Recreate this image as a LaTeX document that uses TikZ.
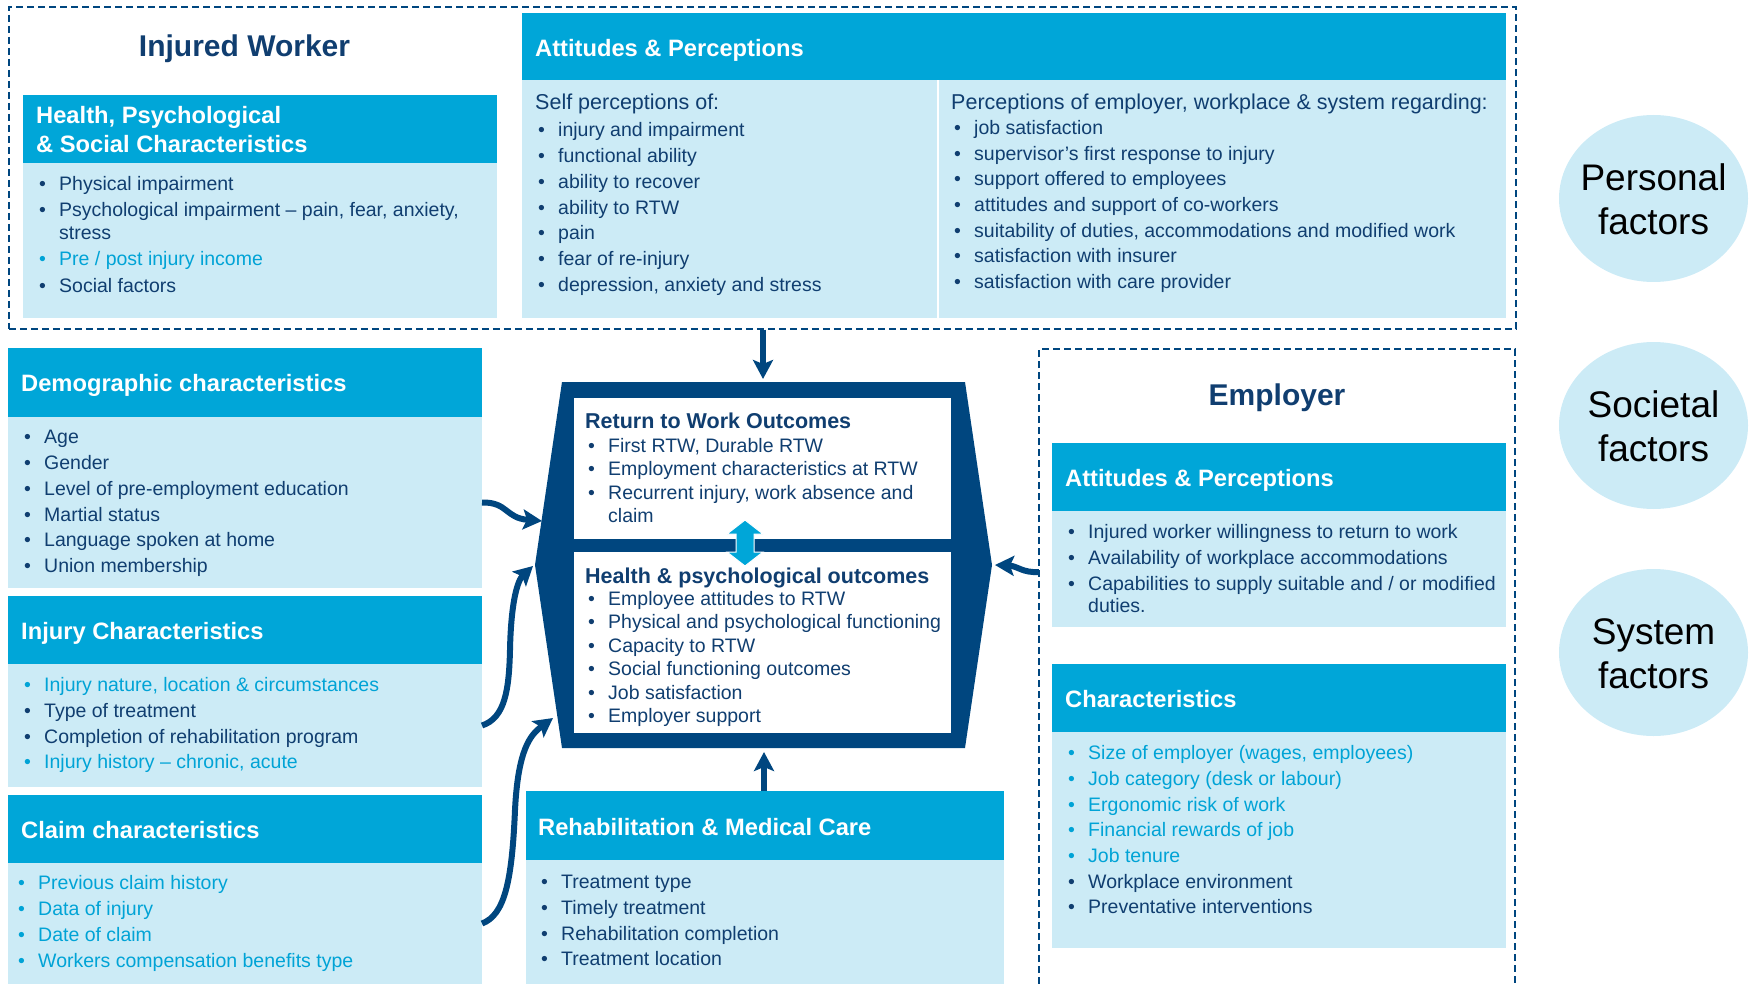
\documentclass[tikz,border=0pt]{standalone}
\usepackage{fontspec}
\setmainfont{Liberation Sans}
\usetikzlibrary{arrows.meta,shapes.geometric}
\definecolor{navy}{RGB}{0,70,127}
\definecolor{txt}{RGB}{16,62,112}
\definecolor{hdr}{RGB}{0,166,216}
\definecolor{lite}{RGB}{204,235,246}
\definecolor{hl}{RGB}{0,163,214}
\newlength\bw
\setlength\bw{20pt}
\newcommand\itm[1]{\strut\makebox[\bw][l]{\textbullet}#1}
\newcommand\itmh[1]{{\color{hl}\strut\makebox[\bw][l]{\textbullet}#1}}
\newcommand\cont[1]{\strut\hspace*{\bw}#1}
\begin{document}
\begin{tikzpicture}[x=1pt,y=-1pt,
  hbox/.style={fill=hdr, inner sep=0, outer sep=0, anchor=north west},
  bbox/.style={fill=lite, inner sep=0, outer sep=0, anchor=north west},
  wbox/.style={fill=white, inner sep=0, outer sep=0, anchor=north west},
  dashbox/.style={draw=navy, line width=1.6pt, dash pattern=on 7pt off 4pt},
  htxt/.style={anchor=base west, inner sep=0, text=white, font=\fontsize{23.7}{29}\selectfont\bfseries},
  ttl/.style={anchor=base, inner sep=0, text=txt, font=\fontsize{30}{36}\selectfont\bfseries},
  lst/.style={anchor=north west, inner sep=0, align=left, text=txt, font=\fontsize{19.5}{22.5}\selectfont},
  lstc/.style={anchor=north west, inner sep=0, align=left, text=txt, font=\fontsize{19.5}{23.4}\selectfont},
  sub/.style={anchor=base west, inner sep=0, text=txt, font=\fontsize{21.5}{26}\selectfont},
  subb/.style={anchor=base west, inner sep=0, text=txt, font=\fontsize{21.5}{26}\selectfont\bfseries},
  fac/.style={ellipse, fill=lite, inner sep=0, minimum width=189pt, minimum height=167pt},
  factxt/.style={anchor=north, inner sep=0, align=center, text=black, font=\fontsize{37}{43.5}\selectfont},
  conn/.style={draw=navy, line width=6pt, -{Stealth[length=19pt,width=20pt,inset=4pt]}}
]
\useasboundingbox (0,0) rectangle (1750,984);

% ---------- Injured worker (top dashed box) ----------
\node[dashbox, anchor=north west, inner sep=0, minimum width=1507pt, minimum height=322pt] (iw) at (8,6) {};
\node[ttl] (iwt) at (244.5,57) {Injured Worker};

\node[hbox, minimum width=474pt, minimum height=68pt] (hpsH) at (23,95) {};
\node[bbox, minimum width=474pt, minimum height=155pt] (hpsB) at (23,163) {};
\node[anchor=north west, inner sep=0, align=left, text=white, font=\fontsize{23.7}{29}\selectfont\bfseries] (hpsT) at (36,102.7) {\strut Health, Psychological\\\strut \& Social Characteristics};
\node[lst] (hpsL) at (39,174.25) {\itm{Physical impairment}\\[4pt]
\itm{Psychological impairment – pain, fear, anxiety,}\\
\cont{stress}\\[4pt]
\itmh{Pre / post injury income}\\[4pt]
\itm{Social factors}};

\node[hbox, minimum width=984pt, minimum height=67pt] (apH) at (522,13) {};
\node[bbox, minimum width=415pt, minimum height=238pt] (apB1) at (522,80) {};
\node[bbox, minimum width=567pt, minimum height=238pt] (apB2) at (939,80) {};
\node[htxt] (apT) at (535,57) {Attitudes \& Perceptions};
\node[sub] (selfT) at (535,110) {Self perceptions of:};
\node[lst] (selfL) at (538,120.75) {\itm{injury and impairment}\\[3.3pt]
\itm{functional ability}\\[3.3pt]
\itm{ability to recover}\\[3.3pt]
\itm{ability to RTW}\\[3.3pt]
\itm{pain}\\[3.3pt]
\itm{fear of re-injury}\\[3.3pt]
\itm{depression, anxiety and stress}};
\node[sub] (percT) at (951,110) {Perceptions of employer, workplace \& system regarding:};
\node[lst] (percL) at (954,118.75) {\itm{job satisfaction}\\[3.1pt]
\itm{supervisor’s first response to injury}\\[3.1pt]
\itm{support offered to employees}\\[3.1pt]
\itm{attitudes and support of co-workers}\\[3.1pt]
\itm{suitability of duties, accommodations and modified work}\\[3.1pt]
\itm{satisfaction with insurer}\\[3.1pt]
\itm{satisfaction with care provider}};

% ---------- factor ellipses ----------
\node[fac] (pf) at (1653.5,198.5) {};
\node[fac] (sf) at (1653.5,425.5) {};
\node[fac] (yf) at (1653.5,652.5) {};
\node[factxt] (pft) at (1653.5,160) {\strut Personal\\\strut factors};
\node[factxt] (sft) at (1653.5,387) {\strut Societal\\\strut factors};
\node[factxt] (yft) at (1653.5,614) {\strut System\\\strut factors};

% ---------- left column ----------
\node[hbox, minimum width=474pt, minimum height=69pt] (demH) at (8,348) {};
\node[bbox, minimum width=474pt, minimum height=171pt] (demB) at (8,417) {};
\node[htxt] (demT) at (21,391) {Demographic characteristics};
\node[lst] (demL) at (24,427.75) {\itm{Age}\\[3.3pt]
\itm{Gender}\\[3.3pt]
\itm{Level of pre-employment education}\\[3.3pt]
\itm{Martial status}\\[3.3pt]
\itm{Language spoken at home}\\[3.3pt]
\itm{Union membership}};

\node[hbox, minimum width=474pt, minimum height=68pt] (injH) at (8,596) {};
\node[bbox, minimum width=474pt, minimum height=123pt] (injB) at (8,664) {};
\node[htxt] (injT) at (21,639.5) {Injury Characteristics};
\node[lst] (injL) at (24,675.75) {\itmh{Injury nature, location \& circumstances}\\[3.2pt]
\itm{Type of treatment}\\[3.2pt]
\itm{Completion of rehabilitation program}\\[3.2pt]
\itmh{Injury history – chronic, acute}};

\node[hbox, minimum width=474pt, minimum height=68pt] (clH) at (8,795) {};
\node[bbox, minimum width=474pt, minimum height=121pt] (clB) at (8,863) {};
\node[htxt] (clT) at (21,838) {Claim characteristics};
\node[lst] (clL) at (18,873.75) {\itmh{Previous claim history}\\[3.5pt]
\itmh{Data of injury}\\[3.5pt]
\itmh{Date of claim}\\[3.5pt]
\itmh{Workers compensation benefits type}};

% ---------- rehabilitation ----------
\node[hbox, minimum width=478pt, minimum height=69pt] (rhH) at (526,791) {};
\node[bbox, minimum width=478pt, minimum height=124pt] (rhB) at (526,860) {};
\node[htxt] (rhT) at (538,835) {Rehabilitation \& Medical Care};
\node[lst] (rhL) at (541,872.75) {\itm{Treatment type}\\[3.2pt]
\itm{Timely treatment}\\[3.2pt]
\itm{Rehabilitation completion}\\[3.2pt]
\itm{Treatment location}};

% ---------- employer ----------
\draw[dashbox] (1039,984) -- (1039,349) -- (1515,349) -- (1515,984);
\coordinate (empL) at (1039,572);
\node[ttl] (empT) at (1277,405) {Employer};
\node[hbox, minimum width=454pt, minimum height=68pt] (eaH) at (1052,443) {};
\node[bbox, minimum width=454pt, minimum height=116pt] (eaB) at (1052,511) {};
\node[htxt] (eaT) at (1065,486) {Attitudes \& Perceptions};
\node[lst] (eaL) at (1068,522.75) {\itm{Injured worker willingness to return to work}\\[3.3pt]
\itm{Availability of workplace accommodations}\\[3.3pt]
\itm{Capabilities to supply suitable and / or modified}\\
\cont{duties.}};

\node[hbox, minimum width=454pt, minimum height=68pt] (chH) at (1052,664) {};
\node[bbox, minimum width=454pt, minimum height=216pt] (chB) at (1052,732) {};
\node[htxt] (chT) at (1065,707) {Characteristics};
\node[lst] (chL) at (1068,743.75) {\itmh{Size of employer (wages, employees)}\\[3.2pt]
\itmh{Job category (desk or labour)}\\[3.2pt]
\itmh{Ergonomic risk of work}\\[3.2pt]
\itmh{Financial rewards of job}\\[3.2pt]
\itmh{Job tenure}\\[3.2pt]
\itm{Workplace environment}\\[3.2pt]
\itm{Preventative interventions}};

% ---------- centre outcomes ----------
\fill[navy] (562,382) -- (965,382) -- (992,565) -- (965,748) -- (562,748) -- (535,565) -- cycle;
\coordinate (hexT) at (763,379);
\coordinate (hexB) at (764,752);
\coordinate (hexR) at (995,565);
\coordinate (hexL1) at (542,521);
\coordinate (hexL2) at (533,566);
\coordinate (hexL3) at (553,718);
\node[wbox, minimum width=377pt, minimum height=141pt] (rtw) at (574,398) {};
\node[wbox, minimum width=377pt, minimum height=181pt] (hpo) at (574,552) {};
\node[subb] (rtwT) at (585,428) {Return to Work Outcomes};
\node[lstc] (rtwL) at (588,435.62) {\itm{First RTW, Durable RTW}\\
\itm{Employment characteristics at RTW}\\
\itm{Recurrent injury, work absence and}\\
\cont{claim}};
\node[subb] (hpoT) at (585,583) {Health \& psychological outcomes};
\node[lstc] (hpoL) at (588,588.62) {\itm{Employee attitudes to RTW}\\[0.1pt]
\itm{Physical and psychological functioning}\\[0.1pt]
\itm{Capacity to RTW}\\[0.1pt]
\itm{Social functioning outcomes}\\[0.1pt]
\itm{Job satisfaction}\\[0.1pt]
\itm{Employer support}};
\filldraw[fill=hdr, draw=white, line width=1pt] (745,520) -- (763,534) -- (754,534) -- (754,552) -- (763,552) -- (745,566) -- (727,552) -- (736,552) -- (736,534) -- (727,534) -- cycle;

% ---------- connectors ----------
\draw[conn] (iw.south -| hexT) -- (hexT);
\draw[conn] (rhH.north -| hexB) -- (hexB);
\draw[conn] (empL) .. controls (1022,573) and (1018,566) .. (hexR);
\draw[conn] (demB.east) .. controls (508,502) and (505,518) .. (hexL1);
\draw[conn] (injB.east) .. controls (505,718) and (509,690) .. (510,650) .. controls (511,600) and (518,580) .. (hexL2);
\draw[conn] (clB.east) .. controls (505,915) and (512,880) .. (515,810) .. controls (518,750) and (530,735) .. (hexL3);
\end{tikzpicture}
\end{document}
